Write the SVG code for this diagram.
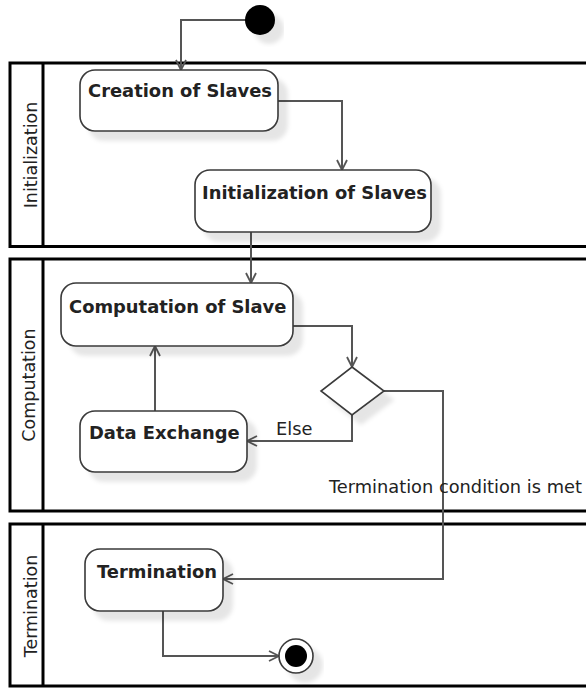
<svg xmlns="http://www.w3.org/2000/svg" width="586" height="688" viewBox="0 0 586 688">
  <style>
    .lane { fill: none; stroke: #000; stroke-width: 3; }
    .lane-label { font-family: "DejaVu Sans", Verdana, sans-serif; font-size: 17.5px; fill: #222; text-anchor: middle; }
    .action { fill: #fff; stroke: #3a3a3a; stroke-width: 1.6; filter: url(#shadow); }
    .action-text { font-family: "DejaVu Sans", Verdana, sans-serif; font-weight: bold; font-size: 17.9px; fill: #222; }
    .flow { fill: none; stroke: #555; stroke-width: 2; marker-end: url(#open-arrow); }
    .guard { font-family: "DejaVu Sans", Verdana, sans-serif; font-size: 17.8px; fill: #222; }
  </style>
  <defs>
    <filter id="shadow" x="-20%" y="-20%" width="150%" height="160%">
      <feGaussianBlur in="SourceAlpha" stdDeviation="2"/>
      <feOffset dx="9" dy="9" result="blur"/>
      <feFlood flood-color="#000" flood-opacity="0.1"/>
      <feComposite in2="blur" operator="in" result="shade"/>
      <feMerge>
        <feMergeNode in="shade"/>
        <feMergeNode in="SourceGraphic"/>
      </feMerge>
    </filter>
    <marker id="open-arrow" viewBox="0 0 12 12" refX="11" refY="6" markerWidth="12" markerHeight="12" markerUnits="userSpaceOnUse" orient="auto">
      <path d="M1,1 L11,6 L1,11" fill="none" stroke="#555" stroke-width="1.8"/>
    </marker>
  </defs>

  <!-- swimlanes -->
  <g id="lane-initialization">
    <rect class="lane" x="10" y="63" width="600" height="183.5"/>
    <line class="lane" x1="43" y1="63" x2="43" y2="246.5"/>
    <text class="lane-label" transform="translate(37,155) rotate(-90)">Initialization</text>
  </g>
  <g id="lane-computation">
    <rect class="lane" x="10" y="259" width="600" height="252"/>
    <line class="lane" x1="43" y1="259" x2="43" y2="511"/>
    <text class="lane-label" transform="translate(35,385) rotate(-90)">Computation</text>
  </g>
  <g id="lane-termination">
    <rect class="lane" x="10" y="524" width="600" height="162"/>
    <line class="lane" x1="43" y1="524" x2="43" y2="686"/>
    <text class="lane-label" transform="translate(37,606) rotate(-90)">Termination</text>
  </g>

  <!-- control flows -->
  <g id="connectors">
    <path class="flow" d="M246,20 H181 V70"/>
    <path class="flow" d="M278,101 H342 V170"/>
    <path class="flow" d="M251,232 V283"/>
    <path class="flow" d="M293,326 H352 V367"/>
    <path class="flow" d="M352,415 V441 H247"/>
    <path class="flow" d="M155,411 V346"/>
    <path class="flow" d="M384,391 H443 V579 H223"/>
    <path class="flow" d="M163,611 V656 H279"/>
    <text class="guard" x="276" y="435">Else</text>
    <text class="guard" x="329" y="493">Termination condition is met</text>
  </g>

  <!-- nodes -->
  <g id="initial-node">
    <circle cx="260" cy="20" r="15" fill="#000" filter="url(#shadow)"/>
  </g>
  <g id="creation-of-slaves">
    <rect class="action" x="80" y="70" width="198" height="61" rx="15"/>
    <text class="action-text" x="88" y="97">Creation of Slaves</text>
  </g>
  <g id="initialization-of-slaves">
    <rect class="action" x="195" y="170" width="236" height="62" rx="15"/>
    <text class="action-text" x="202" y="199">Initialization of Slaves</text>
  </g>
  <g id="computation-of-slave">
    <rect class="action" x="61" y="283" width="232" height="63" rx="15"/>
    <text class="action-text" x="69" y="313">Computation of Slave</text>
  </g>
  <g id="decision">
    <polygon class="action" points="352,367 384,391 352,415 321,391"/>
  </g>
  <g id="data-exchange">
    <rect class="action" x="80" y="411" width="167" height="61" rx="15"/>
    <text class="action-text" x="89" y="439">Data Exchange</text>
  </g>
  <g id="termination">
    <rect class="action" x="85" y="549" width="138" height="62" rx="15"/>
    <text class="action-text" x="97" y="578">Termination</text>
  </g>
  <g id="final-node">
    <circle class="action" cx="296" cy="656" r="17"/>
    <circle cx="296" cy="656" r="11" fill="#000"/>
  </g>
</svg>
